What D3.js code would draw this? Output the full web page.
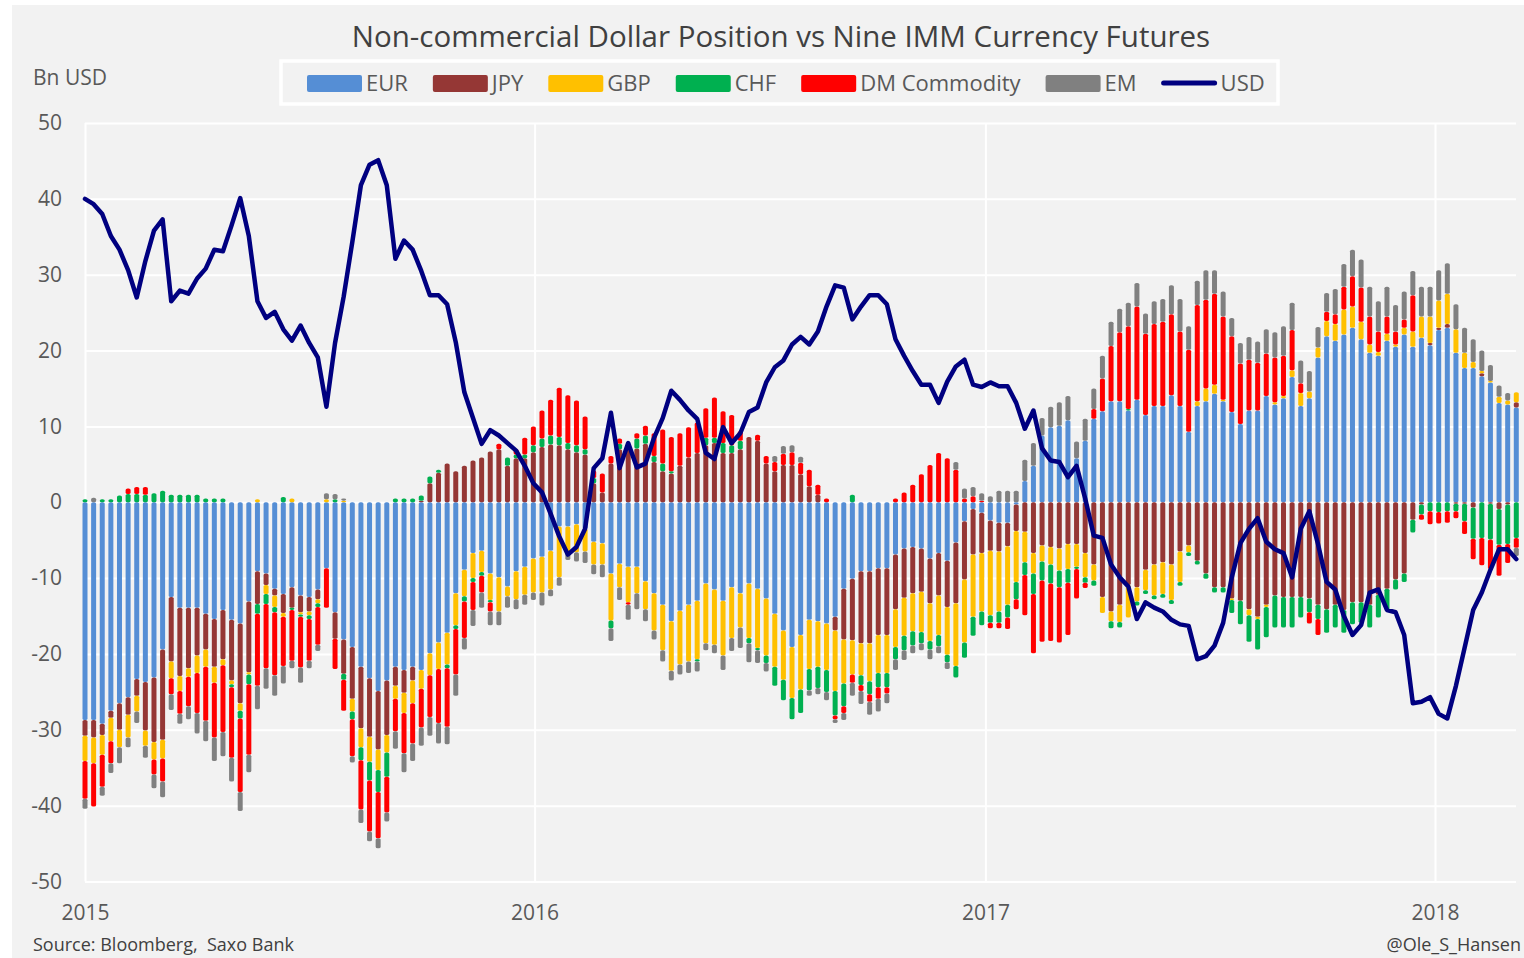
<!DOCTYPE html>
<html>
<head>
<meta charset="utf-8">
<script src="https://cdn.jsdelivr.net/npm/d3@7"></script>
<style>
  body { margin: 0; background: #ffffff; }
  svg text { font-family: "Open Sans", "Noto Sans", sans-serif; }
</style>
</head>
<body>
<div id="chart"></div>
<script>
// weekly positioning data, first report week and count
const firstWeek = new Date(2015, 0, 6);
const yearLabels = [2015, 2016, 2017, 2018];
const yTicks = [-50, -40, -30, -20, -10, 0, 10, 20, 30, 40, 50];

const eur = [
  -28.7,-28.7,-29.2,-27.5,-26.5,-25.7,-23.3,-23.7,-23.1,-19.4,-12.5,-13.9,-13.9,-13.9,-14.7,-15.4,-14.2,-15.5,-16,-13.1,-9.1,-9.4,
  -11.4,-12.1,-11.2,-12.3,-12.5,-11.5,-8.7,-14.5,-18.1,-19.1,-21.7,-23.2,-24.9,-23.5,-21.7,-22.1,-21.7,-22.1,-19.9,-18.5,
  -17.2,-12,-8.9,-6.7,-6.4,-9.4,-9.9,-11.1,-9.1,-8.5,-7.4,-7.2,-6.4,-3.2,-3.2,-2.9,-3.5,-5.2,-5.4,-9.4,
  -8.1,-8.5,-8.5,-10.4,-12,-13.5,-15.7,-14.3,-13.5,-13,-10.7,-11.5,-13,-11.2,-12,-10.7,-11.4,-12.7,-14.7,-16.9,-19.1,-17.5,-15.5,
  -15.7,-16,-15.1,-11.4,-10.1,-9.1,-9.1,-8.7,-8.7,-6.9,-6.1,-5.9,-6.1,-7.4,-6.7,-7.7,-5.3,-2.5,-0.9,-1.4,-2.4,
  -2.7,-2.7,-0.3,2.8,4.8,8.8,9.9,10.1,10.8,5.8,8.1,11,12,13.3,13.3,12.1,13.5,11.5,12.7,12.7,
  14.1,12.7,9.3,12.7,13.3,14.3,13.3,11.9,10.3,12.1,12.1,14,12.9,13.7,16.5,12.7,13.7,19.1,21.9,21.3,22.1,
  23,21.5,19.7,19.3,21.3,20.5,22.1,20.5,21.7,20.7,22.7,23,19.7,17.7,17.7,16.6,15.8,13.1,12.9,12.5
];
const jpy = [
  -2.1,-2.3,-1.5,-0.9,-3.5,-2.3,-2.2,-6.4,-8.5,-11.9,-8.5,-9,-8,-6.3,-4.7,-6.3,-6.5,-8,-10.5,-9.3,-4.3,-1.5,
  -0.9,-2.5,-2.7,-2.2,-1.9,-1.3,0,-3.5,-4.5,-6.8,-8.1,-7.7,-7.7,-7.2,-2.5,-3,-1.8,0.2,2.5,3.9,
  5.1,4.1,4.8,5.5,5.9,6.7,7,4.8,5.8,5.8,6.6,7.3,7.6,7.5,7,6.6,6.3,2.5,1.3,5.1,
  7,7.2,7.1,7.7,5.3,4.1,3.8,4.8,5.9,6.5,7.5,7.8,6.5,6.5,7,8.6,8.1,5.1,4.1,4.9,4.9,3.7,2.1,
  1,0,-1.8,-6.7,-8.1,-9.5,-9.5,-8.8,-8.8,-7.2,-6.5,-6.1,-5.7,-5.9,-5.6,-6.1,-8,-7.7,-6,-5.3,-4,
  -3.8,-3.1,-3.5,-3.9,-6.7,-5.7,-5.9,-6.1,-5.5,-5.5,-6.7,-8.2,-12.5,-14.4,-13.5,-10.9,-11.2,-8.9,-8.2,-7.9,
  -8.2,-6.5,-5.7,-7.7,-9.4,-11.2,-11.2,-12.7,-13,-14.1,-15.1,-13.5,-12.3,-12.5,-12.5,-12.5,-12.7,-13.5,-14.1,-13.5,-14.2,
  -13.2,-13.2,-13.5,-12.2,-11.4,-10.2,-9.4,-2.3,-0.3,0.3,0.3,0.5,-0.2,-0.2,-0.7,0.4,-0.2,-0.9,-0.3,0.7
];
const gbp = [
  -3.3,-3.4,-2.6,-3.1,-2.3,-3,-2.1,-2,-2.3,-2.5,-2.2,-2,-1.1,-2.3,-2.3,-2.1,-0.8,-0.5,-1,-0.3,0.4,-1.2,
  -1.5,-0.5,0.5,-0.3,-0.5,-0.5,0.4,0,0.2,-1.7,-2.5,-3.3,-2.7,-2.3,-1.7,-2.7,-3,-2.5,-2.9,-3.5,
  -4.2,-4.2,-3.5,-3.3,-2.8,-3.5,-4.5,-1.3,-3.7,-3.7,-4.5,-4.7,-5.1,-6.7,-3.5,-3.7,-3,-3,-2.8,-6.2,
  -3.1,-4.7,-3.5,-3.7,-4.9,-6,-6.5,-7.1,-7.5,-7.7,-7.9,-7.3,-7.2,-6.7,-4.5,-7.2,-7.8,-7.5,-7,-6.5,-6.7,-7.2,-6.5,
  -6,-6.1,-8,-5.8,-4.5,-4.2,-5,-5,-5,-5,-5,-5,-5.3,-5,-5.2,-6.3,-8.3,-8.3,-8.2,-7.7,-8.5,
  -7.9,-7.7,-6.7,-4,-2.7,-2.1,-2.3,-2.9,-3.3,-3,-3.2,-2.1,-2.1,-1.3,-2.3,-4.3,-1.9,-2.7,-4.1,-4.2,
  -4.7,-4,-0.9,0.6,1.7,1.2,0.2,-0.2,0,-0.8,-0.3,-0.3,0.3,0.3,0.9,1.7,0.9,1.3,2,2.2,3.3,
  2.8,2.3,1.1,0.5,0.9,0.3,0.9,2,2.8,3.5,3.6,4,3.1,2,0.8,0.3,0.2,0.8,0.5,1.3
];
const chf = [
  0.4,0,0.4,0.4,0.9,1.1,1.1,1,1.2,1.5,1,1,1,1,0.5,0.5,0.5,-0.4,-1,-1.3,-1.3,-1.3,
  -0.7,0.7,-0.3,-0.3,-0.5,-0.5,0,0.4,-0.8,-1,-1.7,-2.5,-2.9,-3.2,0.5,0.5,0.5,0.7,0.9,0.4,
  -0.5,-0.5,-0.7,-0.5,-0.5,-0.3,0,1.1,0.5,0.5,0.9,1.1,1.2,1.1,0.8,0.9,0.7,0.7,0,-1,
  0.7,0.5,1.3,1.1,0.8,1,0.3,0,0,-0.3,1,0.7,1.3,1,1.1,-0.7,-0.3,-1,-2.5,-2.7,-2.8,-3.1,-2.8,
  -2.8,-2.9,-3.2,-3,1,-1.3,-1.7,-1.9,-1.9,-1.6,-1.9,-1.9,-1.5,-1.1,-1.5,-1,-1.5,-2,-2.5,-1.8,-1,
  -1.5,-1.7,-2.3,-1.7,-2.7,-2.5,-2.5,-2.2,-1.8,-0.3,-0.7,-0.7,0,-0.9,-0.7,0.2,-0.5,-0.5,-0.5,-0.5,
  -0.5,-0.5,-0.5,-0.5,-0.7,-0.7,-0.7,-1.7,-3.1,-3.5,-4,-4,-4.2,-4,-4,-2.7,-1.8,-1.9,-3.1,-3,-3,
  -2.9,-2.7,-3,-3,-2.8,-1.3,-1.1,-1.7,-1.3,-1.2,-1.3,-1.2,-1,-2.3,-4.1,-4.7,-4.7,-4.7,-5.2,-4.7
];
const dmCommodity = [
  -5,-5.7,-4.2,-2.9,0,0.7,0.9,1,-2,-3,-2.1,-3,-3.9,-5.3,-7.1,-7.2,-8.8,-9.3,-9.7,-9.3,-9.5,-8.5,
  -8.3,-6.5,-6.7,-6.7,-5.5,-5,-5.2,-4,-4.1,-4.9,-6.5,-6.7,-6.1,-4.7,-4.3,-5.3,-5.3,-5.1,-5.5,-7.1,
  -7.7,-6,-4.8,-3.7,-2.2,-1.2,0.7,0,0.7,2.2,2.5,3.7,4.7,6.5,6.3,5.9,4.3,1,2.5,1,
  0.7,-0.3,0.7,1.3,3,4.5,4.5,4.3,4,4,3.9,5.3,4.2,4,1.3,0,0.8,1,1.2,1.5,1.7,1.5,2.2,
  1.3,0.5,-0.5,-0.9,-1.1,-0.8,-1,-1.5,-0.8,0.5,1.3,2.3,3.7,4.9,6.5,5.8,4.3,0.5,0.8,0.2,-0.7,
  -0.7,-1.5,-1.3,-5.3,-7.8,-8.1,-7.6,-7.3,-6.9,-3.9,-0.7,1.3,4.3,7.3,9.1,10.9,12.3,10.7,10.8,11.1,
  10.7,9.8,10.8,12.7,11.7,12,11,10,8,6.7,6.3,5.6,5.9,5.3,5.3,1.3,-1.5,-2.1,1.2,1.3,3,
  4,4.5,3.7,2.7,2.3,1.7,1.1,4.8,-0.7,-1.7,-1.5,-1.5,-0.9,-1.7,-2.7,-3.6,-3.9,-4.1,-2.5,-1.3
];
const em = [
  -1.3,0.6,-1.2,-1.3,-2.1,-1.3,-1.5,-1.6,-1.8,-2.1,-2.1,-1.3,-1.7,-2.7,-2.7,-3.1,-3.2,-3.1,-2.5,-2.3,-3.1,-2.7,
  -2.7,-2.3,-1,-2,-1,-0.8,0.8,0.7,0.3,-0.8,-1.8,-1.3,-1.3,-1.2,-2.3,-2.5,-2.3,-2.4,-2.5,-2.7,
  -2.3,-2.8,-1.5,-2.1,-2,-1.8,-1.8,-1.5,-1.3,-1.3,-1,-1.7,-0.9,-1.1,-0.9,-1.2,-1.5,-1.3,-1.7,-1.7,
  -1.7,-2,-2.1,-1.6,-1.2,-1.5,-1.3,-1.3,-1.5,-1.3,-0.9,-1.1,-1.9,-1.7,-2.7,-2.5,-1.7,-1.1,0.8,1,0.9,0.8,-0.7,
  -0.8,-1.1,-0.5,-0.9,-1.7,-1.7,-1.7,-1.7,-1.3,-1.4,-1.3,-1,-0.9,-1.3,-0.9,-0.9,1,1.3,1.2,1,0.8,
  1.5,1.5,1.5,2.8,3,2.3,2.7,3.1,3.2,2.2,2.9,2.7,3,3.2,3.1,3.1,3.1,2.7,3,3,
  3.8,4.3,3.1,3.2,3.9,3.1,3.3,2.4,2.7,3,2.8,3.2,3.3,3.9,3.6,3,2.7,2.7,2.5,3.3,3,
  3.5,3.7,3.9,4,3.9,3.5,3.7,3.2,3.9,3.9,4,4,3.3,3.3,3,2.7,2.1,1.5,1,-1.1
];
const usd = [
  40,39.3,38,35.1,33.3,30.6,27,31.8,35.8,37.3,26.5,27.9,27.5,29.5,30.8,33.3,33.1,36.5,40.1,35.1,26.5,24.3,
  25.1,22.8,21.3,23.3,21,19.1,12.6,21,27.1,34.3,41.8,44.5,45.1,41.8,32.1,34.5,33.3,30.5,27.3,27.3,
  26.1,21.1,14.5,11.1,7.7,9.5,8.8,7.8,6.8,4.8,2.5,1.3,-1.5,-4.5,-6.9,-5.9,-3.5,4.5,5.8,11.8,
  4.5,7.8,4.6,5.1,8.5,11.1,14.7,13.5,12.1,11,6.5,5.7,9.9,7.8,9.1,11.9,12.5,15.8,17.8,18.7,20.8,21.8,20.8,
  22.5,25.8,28.6,28.3,24.1,25.8,27.3,27.3,26.1,21.5,19.3,17.3,15.5,15.5,13.1,15.9,17.9,18.8,15.5,15.2,15.8,
  15.3,15.3,13.1,9.7,12.1,7.1,5.5,5.3,3.3,4.8,0.5,-4.4,-4.7,-8.2,-9.9,-11.1,-15.4,-13.2,-13.9,-14.4,
  -15.5,-16.1,-16.3,-20.7,-20.3,-18.9,-15.9,-9.9,-5.4,-3.5,-2.1,-5.2,-6.2,-6.7,-9.9,-3.5,-1.2,-5.5,-10.5,-11.5,-15,
  -17.5,-16.2,-11.9,-11.5,-14.2,-14.5,-17.5,-26.5,-26.3,-25.7,-27.9,-28.5,-24.2,-19.2,-14.2,-11.9,-8.9,-6.2,-6.2,-7.5
];

const seriesKeys = ["EUR", "JPY", "GBP", "CHF", "DM Commodity", "EM"];
const seriesValues = [eur, jpy, gbp, chf, dmCommodity, em];
const seriesColors = ["#558ed5", "#953735", "#ffc000", "#00b050", "#ff0000", "#808080"];
const lineColor = "#000080";

const width = 1524, height = 958;
const plotLeft = 85, plotRight = 1516, plotTop = 123, plotBottom = 881.5;

const table = eur.map((_, i) => {
    const row = { date: d3.timeDay.offset(firstWeek, 7 * i), usd: usd[i] };
    seriesKeys.forEach((k, j) => row[k] = seriesValues[j][i]);
    return row;
});

const svg = d3.select("#chart").append("svg")
    .attr("width", width)
    .attr("height", height);

svg.append("rect")
    .attr("x", 12).attr("y", 5)
    .attr("width", width - 12).attr("height", height - 5)
    .attr("fill", "#f2f2f2");

const x = d3.scaleTime()
    .domain([new Date(2015, 0, 6), new Date(2018, 0, 6)])
    .range([plotLeft, 1435]);

const y = d3.scaleLinear()
    .domain([-50, 50])
    .range([plotBottom, plotTop]);

// horizontal grid + y labels
const yAxis = svg.append("g")
    .attr("transform", `translate(${plotLeft},0)`)
    .call(d3.axisLeft(y)
        .tickValues(yTicks)
        .tickFormat(d => String(d))
        .tickSize(-(plotRight - plotLeft))
        .tickPadding(23));
yAxis.select(".domain").remove();
yAxis.selectAll("line").attr("stroke", "#ffffff").attr("stroke-width", 2);
yAxis.selectAll("text")
    .attr("fill", "#595959")
    .style("font-size", "21px");

// vertical grid + year labels
const yearDates = yearLabels.map(yr => new Date(yr, 0, 6));
const xAxis = svg.append("g")
    .attr("transform", `translate(0,${plotBottom})`)
    .call(d3.axisBottom(x)
        .tickValues(yearDates)
        .tickFormat(d3.timeFormat("%Y"))
        .tickSize(-(plotBottom - plotTop))
        .tickPadding(24));
xAxis.select(".domain").remove();
xAxis.selectAll("line").attr("stroke", "#ffffff").attr("stroke-width", 2);
xAxis.selectAll("text")
    .attr("fill", "#595959")
    .style("font-size", "21px");

// stacked bars, positives up and negatives down
const stack = d3.stack()
    .keys(seriesKeys)
    .offset(d3.stackOffsetDiverging);
const stacked = stack(table);

const barWidth = 5;
svg.append("g").selectAll("g")
    .data(stacked)
    .enter().append("g")
    .attr("fill", (d, i) => seriesColors[i])
    .selectAll("rect")
    .data(d => d.filter(s => Math.abs(s[1] - s[0]) > 0.001))
    .enter().append("rect")
    .attr("x", d => x(d.data.date) - barWidth / 2)
    .attr("y", d => y(Math.max(d[0], d[1])))
    .attr("width", barWidth)
    .attr("height", d => Math.abs(y(d[0]) - y(d[1])))
    .attr("rx", 2)
    .attr("ry", 1.5);

// USD line
const line = d3.line()
    .x(d => x(d.date))
    .y(d => y(d.usd));

svg.append("path")
    .datum(table)
    .attr("fill", "none")
    .attr("stroke", lineColor)
    .attr("stroke-width", 4.5)
    .attr("stroke-linejoin", "round")
    .attr("stroke-linecap", "round")
    .attr("d", line);

// title and labels
svg.append("text")
    .attr("x", 781)
    .attr("y", 47)
    .attr("text-anchor", "middle")
    .attr("fill", "#404040")
    .style("font-size", "29.5px")
    .text("Non-commercial Dollar Position vs Nine IMM Currency Futures");

svg.append("text")
    .attr("x", 33)
    .attr("y", 85)
    .attr("fill", "#595959")
    .style("font-size", "21px")
    .text("Bn USD");

svg.append("text")
    .attr("x", 33)
    .attr("y", 951)
    .attr("fill", "#404040")
    .style("font-size", "18px")
    .style("white-space", "pre")
    .text("Source: Bloomberg,  Saxo Bank");

svg.append("text")
    .attr("x", 1521)
    .attr("y", 951)
    .attr("text-anchor", "end")
    .attr("fill", "#404040")
    .style("font-size", "18px")
    .text("@Ole_S_Hansen");

// legend
svg.append("rect")
    .attr("x", 281).attr("y", 61)
    .attr("width", 997).attr("height", 43)
    .attr("fill", "#f2f2f2")
    .attr("stroke", "#ffffff")
    .attr("stroke-width", 3.5);

const legendItems = seriesKeys.map((k, i) => ({ name: k, color: seriesColors[i], type: "bar" }))
    .concat([{ name: "USD", color: lineColor, type: "line" }]);

let legendX = 307;
legendItems.forEach(item => {
    const g = svg.append("g");
    if (item.type === "bar") {
        g.append("rect")
            .attr("x", legendX).attr("y", 75)
            .attr("width", 55).attr("height", 17)
            .attr("rx", 2)
            .attr("fill", item.color);
    } else {
        g.append("line")
            .attr("x1", legendX + 2).attr("x2", legendX + 53)
            .attr("y1", 83).attr("y2", 83)
            .attr("stroke", item.color)
            .attr("stroke-width", 5)
            .attr("stroke-linecap", "round");
    }
    const t = g.append("text")
        .attr("x", legendX + 59)
        .attr("y", 91)
        .attr("fill", "#595959")
        .style("font-size", "22px")
        .text(item.name);
    legendX += 59 + t.node().getComputedTextLength() + 25;
});
</script>
</body>
</html>
